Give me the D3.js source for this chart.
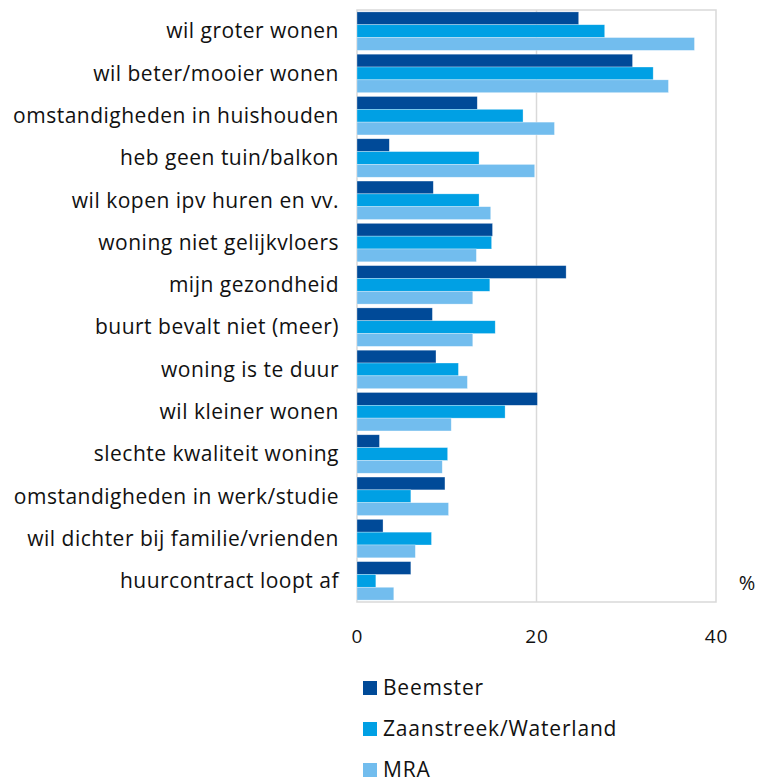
<!DOCTYPE html>
<html>
<head>
<meta charset="utf-8">
<script src="https://cdn.jsdelivr.net/npm/d3@7"></script>
<style>
  html, body { margin: 0; padding: 0; background: #fff; }
  svg text { font-family: "Open Sans", sans-serif; fill: #111; }
</style>
</head>
<body>
<svg id="chart" width="773" height="780"></svg>
<script>
const categories = [
  "wil groter wonen",
  "wil beter/mooier wonen",
  "omstandigheden in huishouden",
  "heb geen tuin/balkon",
  "wil kopen ipv huren en vv.",
  "woning niet gelijkvloers",
  "mijn gezondheid",
  "buurt bevalt niet (meer)",
  "woning is te duur",
  "wil kleiner wonen",
  "slechte kwaliteit woning",
  "omstandigheden in werk/studie",
  "wil dichter bij familie/vrienden",
  "huurcontract loopt af"
];
const seriesNames = ["Beemster", "Zaanstreek/Waterland", "MRA"];
const beemster = [24.7, 30.7, 13.4, 3.6, 8.5, 15.1, 23.3, 8.4, 8.8, 20.1, 2.5, 9.8, 2.9, 6.0];
const zaanstreek = [27.6, 33.0, 18.5, 13.6, 13.6, 15.0, 14.8, 15.4, 11.3, 16.5, 10.1, 6.0, 8.3, 2.1];
const mra = [37.6, 34.7, 22.0, 19.8, 14.9, 13.3, 12.9, 12.9, 12.3, 10.5, 9.5, 10.2, 6.5, 4.1];
const xTicks = [0, 20, 40];
const colors = ["#004A98", "#00A0E4", "#72BDEE"];

const seriesValues = [beemster, zaanstreek, mra];

const svg = d3.select("#chart");
const pLeft = 357, pRight = 716, pTop = 10, pBottom = 602;

const x = d3.scaleLinear().domain([0, 40]).range([pLeft, pRight]);
const y = d3.scaleBand().domain(categories).range([pTop, pBottom]).paddingInner(0.09).paddingOuter(0.045);
const ySub = d3.scaleBand().domain(d3.range(3)).range([0, y.bandwidth()]);

// gridlines
svg.append("g").selectAll("line").data(xTicks.slice(1, -1)).join("line")
  .attr("x1", d => x(d)).attr("x2", d => x(d))
  .attr("y1", pTop).attr("y2", pBottom)
  .attr("stroke", "#d9d9d9").attr("stroke-width", 1.5);

// plot border
svg.append("rect").attr("x", pLeft).attr("y", pTop)
  .attr("width", pRight - pLeft).attr("height", pBottom - pTop)
  .attr("fill", "none").attr("stroke", "#d9d9d9").attr("stroke-width", 1.5);

// bars
const g = svg.append("g");
categories.forEach((c, i) => {
  seriesValues.forEach((vals, s) => {
    g.append("rect")
      .attr("x", x(0))
      .attr("y", y(c) + ySub(s))
      .attr("width", x(vals[i]) - x(0))
      .attr("height", ySub.bandwidth())
      .attr("fill", colors[s])
      .attr("stroke", "#ffffff").attr("stroke-opacity", 0.5).attr("stroke-width", 0.6);
  });
});

// category labels
svg.append("g").selectAll("text").data(categories).join("text")
  .attr("x", 339)
  .attr("y", d => y(d) + y.bandwidth() / 2)
  .attr("dy", "0.35em")
  .attr("text-anchor", "end")
  .style("font-size", "21px")
  .style("letter-spacing", "0.5px")
  .text(d => d);

// x axis ticks
const xAxis = d3.axisBottom(x).tickValues(xTicks).tickSize(0).tickPadding(0).tickFormat(d3.format("d"));
const ax = svg.append("g").attr("transform", `translate(0, 629)`).call(xAxis);
ax.select(".domain").remove();
ax.selectAll("text").style("font-size", "19px").style("fill", "#111").style("font-family", "'Open Sans', sans-serif").style("letter-spacing", "1px");

// % label
svg.append("text").attr("x", 747).attr("y", 583).attr("dy", "0.35em")
  .attr("text-anchor", "middle").style("font-size", "20px").text("%");

// legend
const legend = svg.append("g");
seriesNames.forEach((n, i) => {
  const ly = 688 + i * 41;
  legend.append("rect").attr("x", 363).attr("y", ly - 7).attr("width", 14).attr("height", 14).attr("fill", colors[i]);
  legend.append("text").attr("x", 383).attr("y", ly).attr("dy", "0.35em")
    .style("font-size", "21px").style("letter-spacing", "0.8px").text(n);
});
</script>
</body>
</html>
